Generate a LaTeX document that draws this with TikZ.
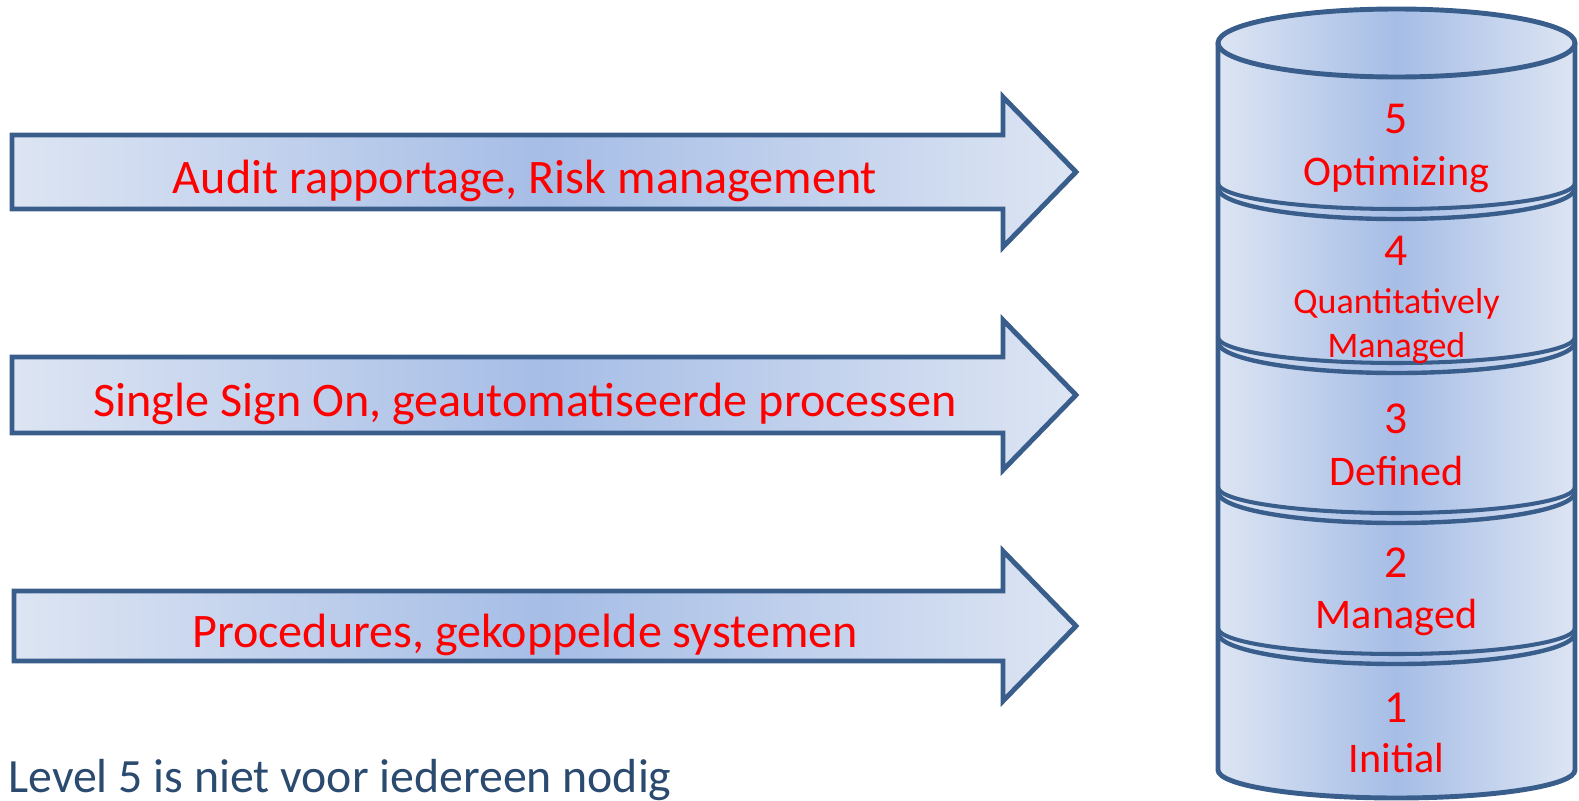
\documentclass[tikz,border=0pt]{standalone}
\usepackage{fontspec}
\setmainfont{Carlito}
\usepackage{xcolor}
\usepackage{tikz}
\usetikzlibrary{positioning}

\definecolor{edgeblue}{HTML}{3A5E8C}
\definecolor{filllight}{HTML}{DDE5F3}
\definecolor{fillmid}{HTML}{A6BDE6}
\definecolor{notetext}{HTML}{2B4A70}

\begin{document}
\begin{tikzpicture}[
    x=0.02cm, y=-0.02cm,
    blockarrow/.style={draw=edgeblue, line width=2.8pt, left color=filllight, right color=filllight, middle color=fillmid},
    arrowlabel/.style={anchor=base, text=red, inner sep=0pt, font=\fontsize{27.4}{32}\selectfont},
    levelnum/.style={anchor=base, text=red, inner sep=0pt, font=\fontsize{26}{30}\selectfont},
    levellabel/.style={anchor=base, text=red, inner sep=0pt, font=\fontsize{24}{28}\selectfont},
    smalllabel/.style={anchor=base, text=red, inner sep=0pt, font=\fontsize{20.5}{24}\selectfont},
    notelabel/.style={anchor=base west, text=notetext, inner sep=0pt, font=\fontsize{27.2}{32}\selectfont}
]
\useasboundingbox (0,0) rectangle (1579,801);

% block arrows
\foreach \yc/\xl/\hb/\nm/\txt in {172/12/37/audit/{Audit rapportage, Risk management},
                                 395/12/38/sso/{Single Sign On, geautomatiseerde processen},
                                 626/14/35/proc/{Procedures, gekoppelde systemen}} {
    \draw[blockarrow] (\xl,\yc-\hb) -- (1003,\yc-\hb) -- (1003,\yc-75) -- (1076,\yc)
        -- (1003,\yc+75) -- (1003,\yc+\hb) -- (\xl,\yc+\hb) -- cycle;
    \node[arrowlabel] (\nm) at (525,\yc+21) {\txt};
}

% cylinder
\path[left color=filllight, right color=filllight, middle color=fillmid]
    (1218,43) -- (1218,770) arc[start angle=180, end angle=0, x radius=178.5, y radius=28]
    -- (1575,43) arc[start angle=0, end angle=-180, x radius=178.5, y radius=34] -- cycle;
\draw[edgeblue, line width=2.8pt] (1396.5,43) ellipse[x radius=178.5, y radius=34];
\draw[edgeblue, line width=2.8pt] (1218,43) -- (1218,770)
    arc[start angle=180, end angle=0, x radius=178.5, y radius=28] -- (1575,43);
\foreach \yb in {183,337,487,628} {
    \draw[edgeblue, line width=2.3pt] (1218,\yb) arc[start angle=180, end angle=0, x radius=178.5, y radius=26];
    \draw[edgeblue, line width=2.5pt] (1218,\yb+5) arc[start angle=180, end angle=0, x radius=178.5, y radius=31];
}

\node[levelnum] (num5) at (1396.5,133) {5};
\node[levellabel] (name5) at (1396.5,185) {Optimizing};
\node[levelnum] (num4) at (1396.5,265) {4};
\node[smalllabel] (name4a) at (1396.5,313) {Quantitatively};
\node[smalllabel] (name4b) at (1396.5,357) {Managed};
\node[levelnum] (num3) at (1396.5,433) {3};
\node[levellabel] (name3) at (1396.5,485) {Defined};
\node[levelnum] (num2) at (1396.5,577) {2};
\node[levellabel] (name2) at (1396.5,628) {Managed};
\node[levelnum] (num1) at (1396.5,722) {1};
\node[levellabel] (name1) at (1396.5,772) {Initial};

\node[notelabel] (note) at (8,792) {Level 5 is niet voor iedereen nodig};

\end{tikzpicture}
\end{document}
